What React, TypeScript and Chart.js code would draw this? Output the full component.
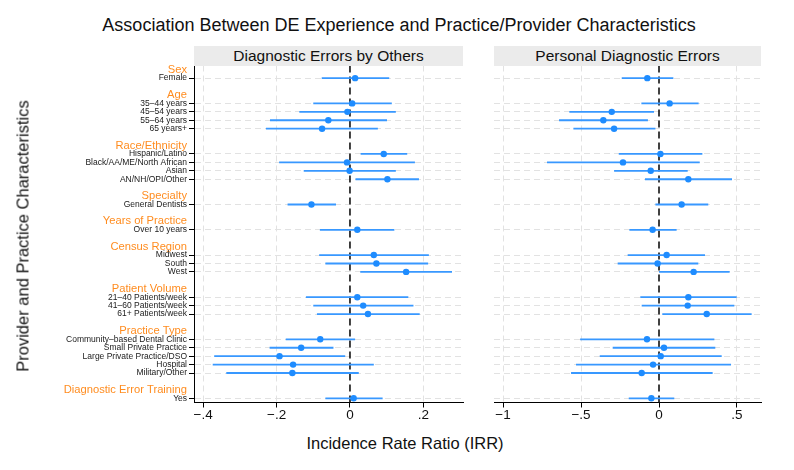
import React, { useEffect, useRef } from "react";
import { Chart, registerables } from "chart.js";

Chart.register(...registerables);

const FONT = "'Liberation Sans', Arial, Helvetica, sans-serif";

// ---- data ----
const groupNames = [
  "Sex",
  "Age",
  "Race/Ethnicity",
  "Specialty",
  "Years of Practice",
  "Census Region",
  "Patient Volume",
  "Practice Type",
  "Diagnostic Error Training",
];
const groupSizes = [1, 4, 4, 1, 1, 3, 3, 5, 1];
const itemLabels = [
  "Female",
  "35–44 years",
  "45–54 years",
  "55–64 years",
  "65 years+",
  "Hispanic/Latino",
  "Black/AA/ME/North African",
  "Asian",
  "AN/NH/OPI/Other",
  "General Dentists",
  "Over 10 years",
  "Midwest",
  "South",
  "West",
  "21–40 Patients/week",
  "41–60 Patients/week",
  "61+ Patients/week",
  "Community–based Dental Clinic",
  "Small Private Practice",
  "Large Private Practice/DSO",
  "Hospital",
  "Military/Other",
  "Yes",
];

const othersEst = [0.014, 0.006, -0.007, -0.059, -0.076, 0.092, -0.008, -0.001, 0.102, -0.105, 0.02, 0.065, 0.072, 0.153, 0.02, 0.036, 0.049, -0.081, -0.133, -0.192, -0.155, -0.157, 0.01];
const othersLo = [-0.077, -0.1, -0.138, -0.218, -0.229, 0.029, -0.193, -0.126, 0.015, -0.17, -0.082, -0.084, -0.067, 0.028, -0.12, -0.1, -0.09, -0.175, -0.219, -0.37, -0.374, -0.337, -0.067];
const othersHi = [0.107, 0.114, 0.125, 0.101, 0.076, 0.156, 0.177, 0.125, 0.188, -0.038, 0.121, 0.215, 0.213, 0.278, 0.159, 0.173, 0.19, 0.014, -0.045, -0.013, 0.065, 0.024, 0.089];

const personalEst = [-0.075, 0.068, -0.303, -0.357, -0.288, 0.009, -0.231, -0.053, 0.188, 0.145, -0.041, 0.049, -0.009, 0.222, 0.188, 0.184, 0.306, -0.077, 0.032, 0.011, -0.038, -0.111, -0.049];
const personalLo = [-0.239, -0.113, -0.575, -0.641, -0.549, -0.258, -0.718, -0.288, -0.09, -0.023, -0.19, -0.201, -0.265, 0.0, -0.12, -0.111, 0.021, -0.506, -0.297, -0.38, -0.532, -0.564, -0.194];
const personalHi = [0.092, 0.254, -0.032, -0.071, -0.023, 0.278, 0.261, 0.184, 0.468, 0.316, 0.113, 0.295, 0.252, 0.453, 0.498, 0.483, 0.594, 0.355, 0.361, 0.402, 0.462, 0.344, 0.098];

const othersTicks = [-0.4, -0.2, 0, 0.2];
const personalTicks = [-1, -0.5, 0, 0.5];

// ---- row layout (header, items, blank) ----
type Kind = "h" | "i" | "b";
const rowLabels: string[] = [];
const rowKinds: Kind[] = [];
const itemRow: number[] = [];
{
  let k = 0;
  groupNames.forEach((g, gi) => {
    rowLabels.push(g);
    rowKinds.push("h");
    for (let j = 0; j < groupSizes[gi]; j++) {
      itemRow.push(rowLabels.length);
      rowLabels.push(itemLabels[k++]);
      rowKinds.push("i");
    }
    if (gi < groupNames.length - 1) {
      rowLabels.push("");
      rowKinds.push("b");
    }
  });
}

const BLUE_PT = "rgb(30,140,255)";
const BLUE_LN = "rgb(56,152,255)";
const ORANGE = "#ff8c1f";
const GRID = "#e2e2e2";

function fmt(v: number): string {
  if (v === 0) return "0";
  const s = String(Math.abs(v)).replace(/^0/, "");
  return (v < 0 ? "−" : "") + s;
}

function makeConfig(
  est: number[],
  lo: number[],
  hi: number[],
  xMin: number,
  xMax: number,
  xTicks: number[],
  showY: boolean,
  padding: { left: number; right: number; top: number; bottom: number }
): any {
  const ci: any[] = [];
  itemRow.forEach((r, k) => {
    ci.push({ x: lo[k], y: r }, { x: hi[k], y: r }, { x: NaN, y: NaN });
  });
  const pts = itemRow.map((r, k) => ({ x: est[k], y: r }));
  const n = rowLabels.length;
  return {
    type: "scatter",
    data: {
      datasets: [
        {
          data: pts,
          pointRadius: 3.2,
          pointBackgroundColor: BLUE_PT,
          pointBorderWidth: 0,
          showLine: false,
        },
        {
          data: ci,
          showLine: true,
          spanGaps: false,
          pointRadius: 0,
          borderColor: BLUE_LN,
          borderWidth: 1.8,
        },
        {
          data: [
            { x: 0, y: -0.5 },
            { x: 0, y: n - 0.5 },
          ],
          showLine: true,
          pointRadius: 0,
          borderColor: "#111",
          borderWidth: 1.6,
          borderDash: [7, 4],
        },
      ],
    },
    options: {
      animation: false,
      responsive: false,
      maintainAspectRatio: false,
      devicePixelRatio: 1,
      layout: { padding },
      plugins: {
        legend: { display: false },
        tooltip: { enabled: false },
        title: { display: false },
      },
      scales: {
        x: {
          type: "linear",
          min: xMin,
          max: xMax,
          afterBuildTicks: (s: any) => {
            s.ticks = xTicks.map((v) => ({ value: v }));
          },
          afterFit: (s: any) => {
            s.height = 30.5;
          },
          ticks: {
            autoSkip: false,
            maxRotation: 0,
            padding: 0,
            color: "#111",
            font: { family: FONT, size: 13.5 },
            callback: (v: any) => fmt(Number(v)),
          },
          grid: {
            color: (ctx: any) =>
              ctx.tick && ctx.tick.value === 0 ? "rgba(0,0,0,0)" : GRID,
            lineWidth: 1,
            tickColor: "#000",
            tickLength: 5,
            drawTicks: true,
          },
          border: { display: true, color: "#000", width: 1, dash: [6, 4] },
        },
        y: {
          type: "linear",
          reverse: true,
          min: -0.5,
          max: n - 0.5,
          afterBuildTicks: (s: any) => {
            s.ticks = rowLabels.map((_, i) => ({ value: i }));
          },
          afterFit: (s: any) => {
            s.width = showY ? 194 : 0;
          },
          ticks: {
            display: showY,
            autoSkip: false,
            padding: 2,
            callback: (v: any) => rowLabels[Math.round(Number(v))] ?? "",
            color: (ctx: any) => {
              const i = ctx.tick ? ctx.tick.value : ctx.index;
              return rowKinds[i] === "h" ? ORANGE : "#1a1a1a";
            },
            font: (ctx: any) => {
              const i = ctx.tick ? ctx.tick.value : ctx.index;
              return rowKinds[i] === "h"
                ? { family: FONT, size: 11.2 }
                : { family: FONT, size: 8.5 };
            },
          },
          grid: {
            color: (ctx: any) => {
              const i = ctx.tick ? ctx.tick.value : ctx.index;
              return rowKinds[i] === "i" ? GRID : "rgba(0,0,0,0)";
            },
            lineWidth: 1,
            drawTicks: showY,
            tickLength: 5,
            tickColor: (ctx: any) => {
              const i = ctx.tick ? ctx.tick.value : ctx.index;
              return rowKinds[i] === "i" ? "#000" : "rgba(0,0,0,0)";
            },
          },
          border: { display: showY, color: "#000", width: 1, dash: [6, 4] },
        },
      },
    },
  };
}

function Panel(props: {
  left: number;
  width: number;
  config: () => any;
}) {
  const ref = useRef<HTMLCanvasElement | null>(null);
  useEffect(() => {
    if (!ref.current) return;
    const chart = new Chart(ref.current, props.config());
    return () => chart.destroy();
  }, []);
  return (
    <canvas
      ref={ref}
      width={props.width}
      height={378}
      style={{
        position: "absolute",
        left: props.left,
        top: 55,
        width: props.width,
        height: 378,
      }}
    />
  );
}

export default function App() {
  const headerStyle: React.CSSProperties = {
    position: "absolute",
    top: 45.5,
    height: 20.5,
    background: "#ebebeb",
    color: "#111",
    fontFamily: FONT,
    fontSize: 15.5,
    lineHeight: "20.5px",
    textAlign: "center",
    zIndex: 2,
  };
  return (
    <div
      style={{
        position: "fixed",
        left: 0,
        top: 0,
        width: 794,
        height: 470,
        background: "#fff",
        overflow: "hidden",
      }}
    >
      <div
        style={{
          position: "absolute",
          left: 2,
          top: 13,
          width: 794,
          textAlign: "center",
          fontFamily: FONT,
          fontSize: 18,
          lineHeight: "24px",
          color: "#111",
        }}
      >
        Association Between DE Experience and Practice/Provider Characteristics
      </div>
      <Panel
        left={0}
        width={470}
        config={() =>
          makeConfig(othersEst, othersLo, othersHi, -0.425, 0.308, othersTicks, true, {
            left: 0,
            right: 7,
            top: 10.5,
            bottom: 0,
          })
        }
      />
      <Panel
        left={470}
        width={324}
        config={() =>
          makeConfig(personalEst, personalLo, personalHi, -1.058, 0.654, personalTicks, false, {
            left: 24,
            right: 33,
            top: 10.5,
            bottom: 0,
          })
        }
      />
      <div style={{ ...headerStyle, left: 194, width: 269 }}>Diagnostic Errors by Others</div>
      <div style={{ ...headerStyle, left: 494, width: 267 }}>Personal Diagnostic Errors</div>
      <div
        style={{
          position: "absolute",
          left: 405,
          top: 443,
          transform: "translate(-50%, -50%)",
          whiteSpace: "nowrap",
          fontFamily: FONT,
          fontSize: 16.5,
          color: "#111",
        }}
      >
        Incidence Rate Ratio (IRR)
      </div>
      <div
        style={{
          position: "absolute",
          left: 23,
          top: 236,
          transform: "translate(-50%, -50%) rotate(-90deg)",
          whiteSpace: "nowrap",
          fontFamily: FONT,
          fontSize: 16.5,
          color: "#111",
        }}
      >
        Provider and Practice Characteristics
      </div>
    </div>
  );
}
